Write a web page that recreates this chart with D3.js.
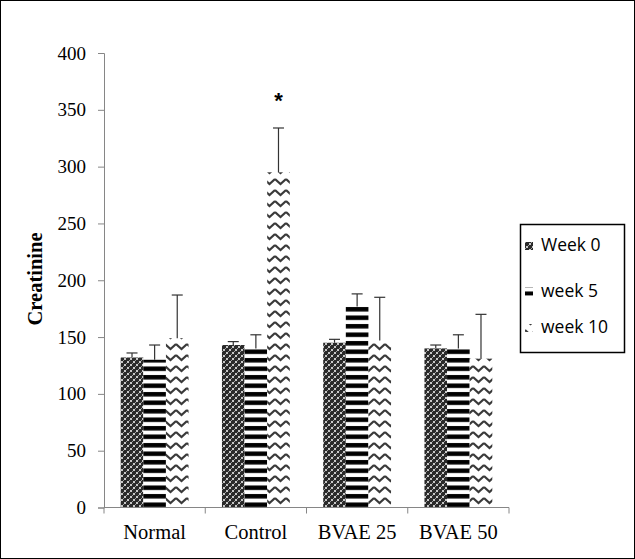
<!DOCTYPE html>
<html>
<head>
<meta charset="utf-8">
<script src="https://cdn.jsdelivr.net/npm/d3@7"></script>
<style>
  body { margin: 0; background: #fff; }
  svg { display: block; }
</style>
</head>
<body>
<svg id="chart"></svg>
<script>
// data
var categories = ["Normal", "Control", "BVAE 25", "BVAE 50"];
var seriesNames = ["Week 0", "week 5", "week 10"];
var week0 = [132, 143, 145, 140];
var week5 = [130, 140, 177, 140];
var week10 = [149, 295, 147, 131];
var err0 = [4, 3, 3, 3];
var err5 = [13, 12, 11, 12];
var err10 = [38, 39, 38, 39];
var yTicks = [0, 50, 100, 150, 200, 250, 300, 350, 400];

var width = 635, height = 559;
var margin = {left: 104, top: 53, right: 126, bottom: 51.5};
var serif = "'Liberation Serif', 'Times New Roman', serif";

var svg = d3.select("#chart").attr("width", width).attr("height", height);

// outer frame
svg.append("rect")
    .attr("x", 0.5).attr("y", 0.5)
    .attr("width", width - 1).attr("height", height - 1)
    .attr("fill", "white").attr("stroke", "black").attr("stroke-width", 1);

var defs = svg.append("defs");

// week 0: dark weave
var p0 = defs.append("pattern").attr("id", "pat0")
    .attr("patternUnits", "userSpaceOnUse").attr("width", 6).attr("height", 6);
p0.append("rect").attr("width", 6).attr("height", 6).attr("fill", "#2a2a2a");
p0.append("rect").attr("x", 1).attr("y", 1).attr("width", 2).attr("height", 2).attr("fill", "#c8c8c8");
p0.append("rect").attr("x", 4).attr("y", 4).attr("width", 2).attr("height", 2).attr("fill", "#c8c8c8");
p0.append("rect").attr("x", 0).attr("y", 3).attr("width", 1).attr("height", 1).attr("fill", "#999");
p0.append("rect").attr("x", 3).attr("y", 0).attr("width", 1).attr("height", 1).attr("fill", "#999");

// week 5: horizontal stripes
var p1 = defs.append("pattern").attr("id", "pat1")
    .attr("patternUnits", "userSpaceOnUse").attr("width", 8).attr("height", 8.5);
p1.append("rect").attr("width", 8).attr("height", 8.5).attr("fill", "white");
p1.append("rect").attr("y", 1).attr("width", 8).attr("height", 4.5).attr("fill", "black");

// week 10: zigzag
var p2 = defs.append("pattern").attr("id", "pat2")
    .attr("patternUnits", "userSpaceOnUse").attr("width", 11).attr("height", 11);
p2.append("rect").attr("width", 11).attr("height", 11).attr("fill", "white");
p2.append("path").attr("d", "M0,3 L5.5,8 L11,3")
    .attr("fill", "none").attr("stroke", "#3a3a3a").attr("stroke-width", 2.2);

var patterns = ["url(#pat0)", "url(#pat1)", "url(#pat2)"];

var x0 = d3.scaleBand().domain(categories)
    .range([margin.left, width - margin.right]).paddingInner(0.33).paddingOuter(0.165);
var x1 = d3.scaleBand().domain(seriesNames).range([0, x0.bandwidth()]);
var y = d3.scaleLinear().domain([0, 400]).range([height - margin.bottom, margin.top]);

var values = [week0, week5, week10];
var errs = [err0, err5, err10];

var rows = [];
categories.forEach(function(c, i) {
    seriesNames.forEach(function(s, j) {
        rows.push({cat: c, s: s, j: j, v: values[j][i], e: errs[j][i]});
    });
});

// bars
svg.selectAll(".bar").data(rows).enter()
    .append("rect")
    .attr("class", "bar")
    .attr("x", function(d) { return x0(d.cat) + x1(d.s); })
    .attr("y", function(d) { return y(d.v); })
    .attr("width", x1.bandwidth())
    .attr("height", function(d) { return y(0) - y(d.v); })
    .attr("fill", function(d) { return patterns[d.j]; });

// error bars
var eb = svg.selectAll(".err").data(rows).enter().append("g").attr("class", "err")
    .attr("stroke", "#333").attr("stroke-width", 1.2);
eb.append("line")
    .attr("x1", function(d) { return x0(d.cat) + x1(d.s) + x1.bandwidth() / 2; })
    .attr("x2", function(d) { return x0(d.cat) + x1(d.s) + x1.bandwidth() / 2; })
    .attr("y1", function(d) { return y(d.v); })
    .attr("y2", function(d) { return y(d.v + d.e); });
eb.append("line")
    .attr("x1", function(d) { return x0(d.cat) + x1(d.s) + x1.bandwidth() / 2 - 5.5; })
    .attr("x2", function(d) { return x0(d.cat) + x1(d.s) + x1.bandwidth() / 2 + 5.5; })
    .attr("y1", function(d) { return y(d.v + d.e); })
    .attr("y2", function(d) { return y(d.v + d.e); });

// y axis
var yAxis = svg.append("g")
    .attr("transform", "translate(" + margin.left + ",0)")
    .call(d3.axisLeft(y).tickValues(yTicks).tickSize(6).tickPadding(12));
yAxis.select(".domain").attr("stroke", "#868686");
yAxis.selectAll(".tick line").attr("stroke", "#868686");
yAxis.selectAll("text")
    .attr("font-family", serif)
    .attr("font-size", 19).attr("fill", "black");

// x axis
var xAxis = svg.append("g")
    .attr("transform", "translate(0," + y(0) + ")")
    .call(d3.axisBottom(x0).tickSize(0).tickPadding(17));
xAxis.select(".domain").attr("stroke", "#868686").attr("d",
    "M" + margin.left + ",0H" + (width - margin.right));
xAxis.selectAll("text")
    .attr("font-family", serif)
    .attr("font-size", 20.5).attr("fill", "black");
// category boundary ticks
var bounds = d3.range(categories.length + 1).map(function(i) {
    return margin.left + i * (width - margin.right - margin.left) / categories.length;
});
xAxis.selectAll(".bound").data(bounds).enter().append("line")
    .attr("class", "bound")
    .attr("x1", function(d) { return d; }).attr("x2", function(d) { return d; })
    .attr("y1", 0).attr("y2", 6)
    .attr("stroke", "#868686");

// y label
svg.append("text")
    .attr("transform", "translate(42,279) rotate(-90)")
    .attr("text-anchor", "middle")
    .attr("font-family", serif)
    .attr("font-weight", "bold").attr("font-size", 20.5)
    .text("Creatinine");

// significance mark
svg.append("text")
    .attr("x", x0("Control") + x1("week 10") + x1.bandwidth() / 2)
    .attr("y", y(352))
    .attr("text-anchor", "middle")
    .attr("font-family", "'Liberation Sans', Arial, sans-serif")
    .attr("font-weight", "bold").attr("font-size", 22)
    .text("*");

// legend
var legendY = [21, 66.5, 103];
var lg = svg.append("g").attr("transform", "translate(520,224)");
lg.append("rect").attr("x", 0.5).attr("y", 0.5).attr("width", 104).attr("height", 128)
    .attr("fill", "white").attr("stroke", "black").attr("stroke-width", 1.5);
var li = lg.selectAll(".li").data(seriesNames).enter().append("g")
    .attr("transform", function(d, i) { return "translate(5," + legendY[i] + ")"; });
li.append("rect")
    .attr("x", 0).attr("y", -3).attr("width", 8).attr("height", 8)
    .attr("fill", function(d, i) { return patterns[i]; });
li.append("text")
    .attr("x", 16).attr("y", 6)
    .attr("font-family", "'Open Sans', 'Liberation Sans', sans-serif")
    .attr("font-size", 17.5)
    .text(function(d) { return d; });
</script>
</body>
</html>
